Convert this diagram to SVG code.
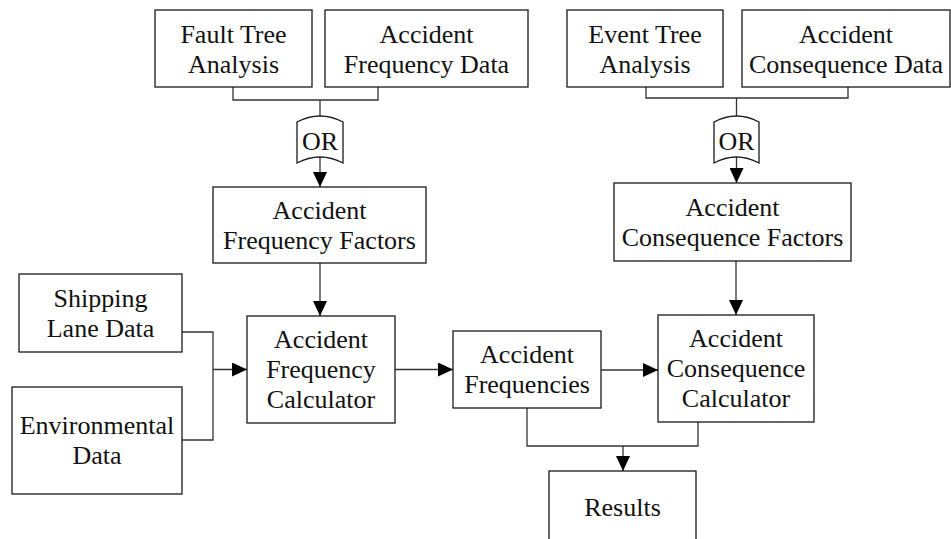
<svg xmlns="http://www.w3.org/2000/svg" width="951" height="539" viewBox="0 0 951 539">
  <defs>
    <style>
      .box { fill: #ffffff; stroke: #1a1a1a; stroke-width: 1.3; }
      .gate { fill: #ffffff; stroke: #1a1a1a; stroke-width: 1.3; }
      .wire { fill: none; stroke: #333333; stroke-width: 1.3; }
      .lbl { font-family: "Liberation Serif", "Times New Roman", serif; font-size: 26px; fill: #111111; text-anchor: middle; }
    </style>
    <marker id="head" markerUnits="userSpaceOnUse" markerWidth="15" markerHeight="14" refX="15" refY="7" orient="auto">
      <path d="M0,0 L15,7 L0,14 Z" fill="#000000"/>
    </marker>
  </defs>
  <rect width="951" height="539" fill="#ffffff"/>

  <!-- connectors -->
  <g id="connectors">
    <path class="wire" d="M233,87 V100 H378 V87"/>
    <path class="wire" d="M320,100 V116"/>
    <path class="wire" d="M320,157 V187" marker-end="url(#head)"/>
    <path class="wire" d="M320,263 V316" marker-end="url(#head)"/>
    <path class="wire" d="M182,332 H213 V440 H182"/>
    <path class="wire" d="M213,369.5 H247" marker-end="url(#head)"/>
    <path class="wire" d="M395,369.5 H453" marker-end="url(#head)"/>
    <path class="wire" d="M601,370 H658" marker-end="url(#head)"/>
    <path class="wire" d="M527,408 V446 H698 V422"/>
    <path class="wire" d="M623,446 V471" marker-end="url(#head)"/>
    <path class="wire" d="M646,87 V98 H848 V87"/>
    <path class="wire" d="M736.5,98 V116"/>
    <path class="wire" d="M736.5,157 V183" marker-end="url(#head)"/>
    <path class="wire" d="M736,261 V315" marker-end="url(#head)"/>
  </g>

  <g id="fault-tree-analysis">
    <rect class="box" x="155" y="10" width="157" height="77"/>
    <text class="lbl" x="233.5" y="43">Fault Tree</text>
    <text class="lbl" x="233.5" y="73">Analysis</text>
  </g>

  <g id="accident-frequency-data">
    <rect class="box" x="325" y="10" width="203" height="77"/>
    <text class="lbl" x="426.5" y="43">Accident</text>
    <text class="lbl" x="426.5" y="73">Frequency Data</text>
  </g>

  <g id="event-tree-analysis">
    <rect class="box" x="567" y="10" width="156" height="77"/>
    <text class="lbl" x="645" y="43">Event Tree</text>
    <text class="lbl" x="645" y="73">Analysis</text>
  </g>

  <g id="accident-consequence-data">
    <rect class="box" x="742" y="10" width="208" height="77"/>
    <text class="lbl" x="846" y="43">Accident</text>
    <text class="lbl" x="846" y="73">Consequence Data</text>
  </g>

  <g id="or-gate-frequency">
    <path class="gate" d="M297,122 Q320,110 343,122 V163 Q320,151 297,163 Z"/>
    <text class="lbl" x="320" y="150">OR</text>
  </g>

  <g id="or-gate-consequence">
    <path class="gate" d="M714,122 Q736.5,110 759,122 V163 Q736.5,151 714,163 Z"/>
    <text class="lbl" x="736.5" y="150">OR</text>
  </g>

  <g id="accident-frequency-factors">
    <rect class="box" x="213" y="187" width="213" height="76"/>
    <text class="lbl" x="319.5" y="219">Accident</text>
    <text class="lbl" x="319.5" y="249">Frequency Factors</text>
  </g>

  <g id="accident-consequence-factors">
    <rect class="box" x="614" y="183" width="237" height="78"/>
    <text class="lbl" x="732.5" y="216">Accident</text>
    <text class="lbl" x="732.5" y="246">Consequence Factors</text>
  </g>

  <g id="shipping-lane-data">
    <rect class="box" x="19" y="274" width="163" height="78"/>
    <text class="lbl" x="100.5" y="307">Shipping</text>
    <text class="lbl" x="100.5" y="337">Lane Data</text>
  </g>

  <g id="environmental-data">
    <rect class="box" x="12" y="387" width="170" height="107"/>
    <text class="lbl" x="97" y="434">Environmental</text>
    <text class="lbl" x="97" y="464">Data</text>
  </g>

  <g id="accident-frequency-calculator">
    <rect class="box" x="247" y="316" width="148" height="107"/>
    <text class="lbl" x="321" y="348">Accident</text>
    <text class="lbl" x="321" y="378">Frequency</text>
    <text class="lbl" x="321" y="408">Calculator</text>
  </g>

  <g id="accident-frequencies">
    <rect class="box" x="453" y="331" width="148" height="77"/>
    <text class="lbl" x="527" y="363">Accident</text>
    <text class="lbl" x="527" y="393">Frequencies</text>
  </g>

  <g id="accident-consequence-calculator">
    <rect class="box" x="658" y="315" width="156" height="107"/>
    <text class="lbl" x="736" y="347">Accident</text>
    <text class="lbl" x="736" y="377">Consequence</text>
    <text class="lbl" x="736" y="407">Calculator</text>
  </g>

  <g id="results">
    <rect class="box" x="549" y="471" width="147" height="80"/>
    <text class="lbl" x="622.5" y="516">Results</text>
  </g>
</svg>
